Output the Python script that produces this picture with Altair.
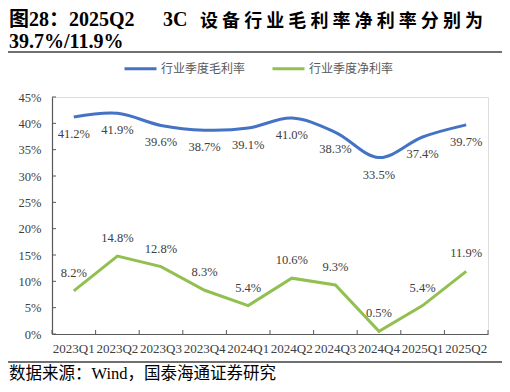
import altair as alt
import pandas as pd

quarters = ["2023Q1", "2023Q2", "2023Q3", "2023Q4", "2024Q1",
            "2024Q2", "2024Q3", "2024Q4", "2025Q1", "2025Q2"]
gross = [41.2, 41.9, 39.6, 38.7, 39.1, 41.0, 38.3, 33.5, 37.4, 39.7]
net = [8.2, 14.8, 12.8, 8.3, 5.4, 10.6, 9.3, 0.5, 5.4, 11.9]
series_names = ["行业季度毛利率", "行业季度净利率"]
series_colors = ["#4472C4", "#92C050"]
y_ticks = [0, 5, 10, 15, 20, 25, 30, 35, 40, 45]

title_a = "图28：2025Q2"
title_b = "3C"
title_c = "设备行业毛利率净利率分别为"
title_2 = "39.7%/11.9%"
source = "数据来源：Wind，国泰海通证券研究"

rows = []
for q, g, n in zip(quarters, gross, net):
    rows.append({"quarter": q, "series": series_names[0], "value": g, "label": f"{g:.1f}%"})
    rows.append({"quarter": q, "series": series_names[1], "value": n, "label": f"{n:.1f}%"})
df = pd.DataFrame(rows)

W, H = 436, 237
SERIF = "Liberation Serif, Noto Sans CJK SC"
CJK = "Noto Sans CJK SC"
TXT = "#404040"
AX = "#595959"

xscale = alt.Scale(type="band", paddingInner=0, paddingOuter=0)
yscale = alt.Scale(domain=[0, 45], nice=False)
xaxis = alt.Axis(title=None, labelAngle=0, tickSize=0, labelPadding=8,
                 labelFont="Liberation Serif", labelFontSize=13, labelColor=TXT,
                 domainColor=AX, domainWidth=1.2, grid=False)
yaxis = alt.Axis(title=None, values=y_ticks, tickSize=0, labelPadding=11,
                 labelExpr="datum.value + '%'", labelFont="Liberation Serif",
                 labelFontSize=12.5, labelColor=TXT, domainColor=AX,
                 domainWidth=1.2, grid=False)

xenc = alt.X("quarter:N", sort=quarters, bandPosition=0.5, scale=xscale, axis=xaxis)
yenc = alt.Y("value:Q", scale=yscale, axis=yaxis)
color = alt.Color("series:N", scale=alt.Scale(domain=series_names, range=series_colors),
                  sort=series_names,
                  legend=alt.Legend(title=None, orient="none", legendX=71, legendY=-46,
                                    direction="horizontal", symbolType="stroke",
                                    symbolSize=1024, symbolStrokeWidth=3,
                                    labelFont=CJK, labelFontSize=12, labelColor=AX,
                                    labelOffset=3, columnPadding=20, padding=0))

base = alt.Chart(df)
blue = base.transform_filter(alt.datum.series == series_names[0])
green = base.transform_filter(alt.datum.series == series_names[1])

blue_line = blue.mark_line(strokeWidth=3, interpolate="catmull-rom").encode(x=xenc, y=yenc, color=color)
green_line = green.mark_line(strokeWidth=3).encode(x=xenc, y=yenc, color=color)
blue_txt = blue.mark_text(dy=17, font="Liberation Serif", fontSize=12.5, color=TXT).encode(
    x=xenc, y=yenc, text="label:N")
green_txt = green.mark_text(dy=-18, font="Liberation Serif", fontSize=12.5, color=TXT).encode(
    x=xenc, y=yenc, text="label:N")

# inward axis ticks
tick_df = pd.DataFrame({"value": y_ticks})
ytick = alt.Chart(tick_df).mark_rule(color=AX, strokeWidth=1).encode(
    y=alt.Y("value:Q", scale=yscale, axis=yaxis),
    x=alt.value(0), x2=alt.value(4))
xtick = alt.Chart(pd.DataFrame({"quarter": quarters})).mark_rule(color=AX, strokeWidth=1).encode(
    x=alt.X("quarter:N", sort=quarters, bandPosition=0, scale=xscale, axis=xaxis),
    y=alt.value(H), y2=alt.value(H - 4))
one = pd.DataFrame({"a": [0]})
xtick_end = alt.Chart(one).mark_rule(color=AX, strokeWidth=1).encode(
    x=alt.value(W), y=alt.value(H), y2=alt.value(H - 4))

# title / source decorations
def txt(s, x, y, size, bold=False, font=SERIF, color="#000000", baseline="alphabetic"):
    return alt.Chart(one).mark_text(align="left", baseline=baseline, font=font,
                                    fontSize=size, fontWeight="bold" if bold else "normal",
                                    color=color).encode(
        x=alt.value(x), y=alt.value(y), text=alt.value(s))

deco = [txt(title_a, -43, -71, 20, True), txt(title_b, 111, -71, 20, True),
        txt(" ".join(title_c), 148, -70, 18, True, font=CJK),
        txt(title_2, -43, -49, 20, True),
        txt(source, -43, 282, 16.5, False)]

rule_top = alt.Chart(one).mark_rule(color="#404040", strokeWidth=1.5).encode(
    x=alt.value(-44), x2=alt.value(450), y=alt.value(-45))
rule_bot = alt.Chart(one).mark_rule(color="#404040", strokeWidth=1.5).encode(
    x=alt.value(-44), x2=alt.value(450), y=alt.value(265))

chart = alt.layer(blue_line, green_line, blue_txt, green_txt, ytick, xtick, xtick_end,
                  rule_top, rule_bot, *deco).properties(
    width=W, height=H,
    autosize=alt.AutoSizeParams(type="none"),
    padding={"left": 44, "top": 89, "right": 14, "bottom": 50},
).configure_view(stroke=None).configure(background="white")

chart.save("out.html", embed_options={"renderer": "svg", "actions": False})
